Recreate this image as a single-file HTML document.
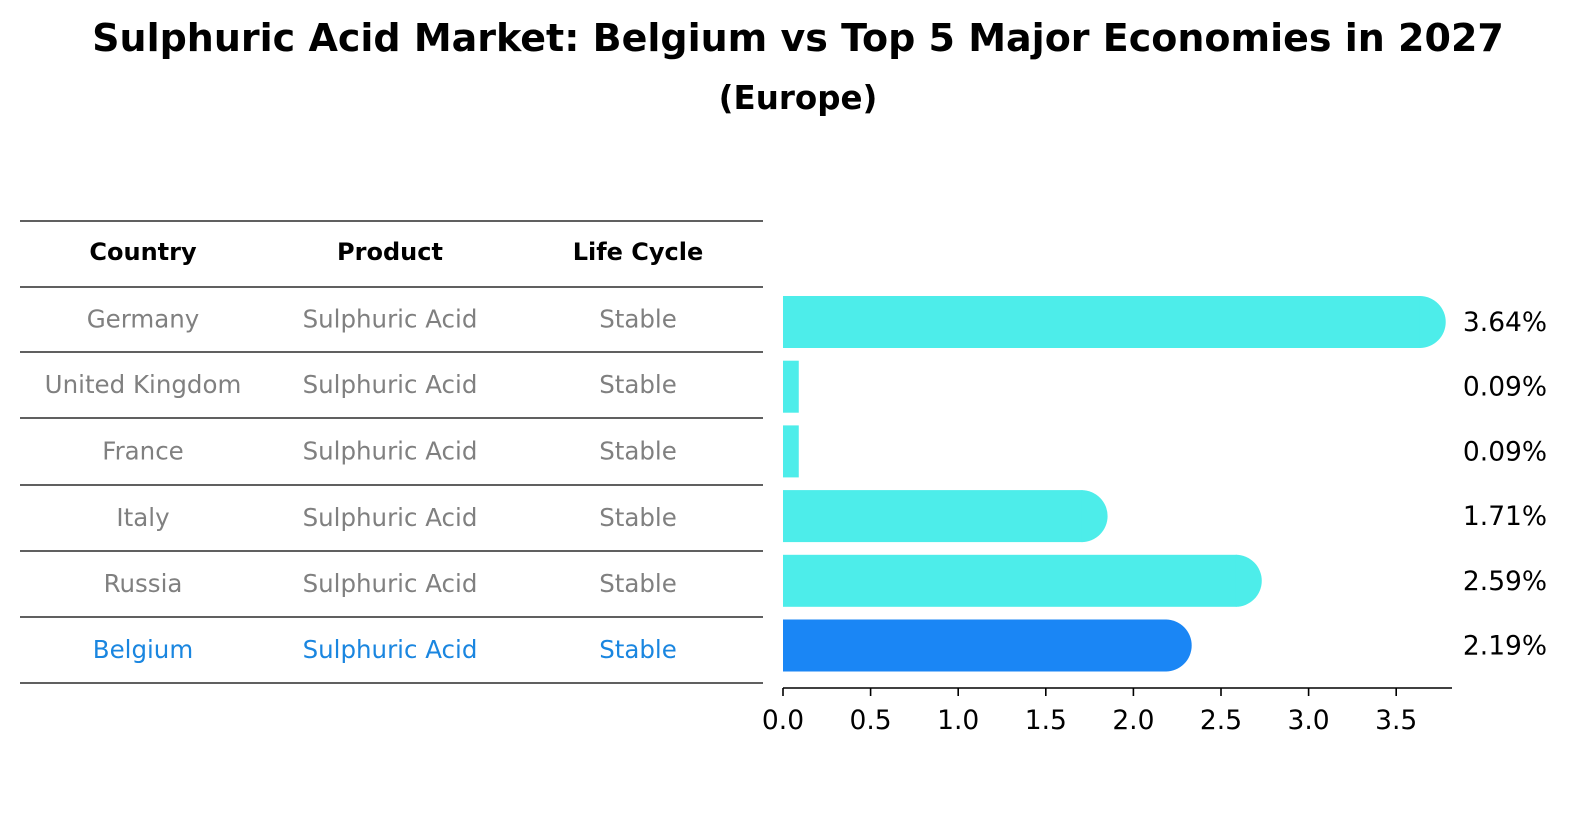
<!DOCTYPE html>
<html><head><meta charset="utf-8"><style>
body{margin:0;background:#fff;font-family:"Liberation Sans","DejaVu Sans",sans-serif;}
#wrap{position:relative;width:1586px;height:823px;overflow:hidden;}
.t{position:absolute;white-space:nowrap;transform:translate(-50%,-50%);}
</style></head><body>
<div id="wrap">
<div class="t" style="left:798px;top:38px;font-size:38px;font-weight:bold;font-family:'DejaVu Sans',sans-serif;">Sulphuric Acid Market: Belgium vs Top 5 Major Economies in 2027</div>
<div class="t" style="left:798px;top:98px;font-size:32.5px;font-weight:bold;font-family:'DejaVu Sans',sans-serif;">(Europe)</div>
<svg id="svg" width="1586" height="823" style="position:absolute;left:0;top:0"></svg>
</div>
<script>
const countries=["Germany","United Kingdom","France","Italy","Russia","Belgium"];
const products=["Sulphuric Acid","Sulphuric Acid","Sulphuric Acid","Sulphuric Acid","Sulphuric Acid","Sulphuric Acid"];
const lifecycle=["Stable","Stable","Stable","Stable","Stable","Stable"];
const values=[3.64,0.09,0.09,1.71,2.59,2.19];
const ticks=[0.0,0.5,1.0,1.5,2.0,2.5,3.0,3.5];
const highlight="Belgium";

const svg=document.getElementById('svg');
const NS="http://www.w3.org/2000/svg";
function mk(tag,attrs){const e=document.createElementNS(NS,tag);for(const k in attrs)e.setAttribute(k,attrs[k]);svg.appendChild(e);return e;}
const x0=783,scale=175.2;
function xs(v){return x0+v*scale;}
function yc(i){return 322+i*64.7;}
const font="'DejaVu Sans',sans-serif";
const lineYs=[221,287,352,418,485,551,617,683];
lineYs.forEach((y,i)=>{
 const l=mk('line',{x1:20,x2:763,y1:y,y2:y,stroke:'#000','stroke-width':1.2});
 
 
});
const colX=[143,390,638];
["Country","Product","Life Cycle"].forEach((h,j)=>{
 const t=mk('text',{x:colX[j],y:260,'text-anchor':'middle','font-size':24,'font-weight':'bold','font-family':font,fill:'#000'});
 t.textContent=h;
 
 
});
countries.forEach((c,i)=>{
 const y=(lineYs[i+1]+lineYs[i+2])/2+8;
 const col=c===highlight?'#1A86E0':'#808080';
 [c,products[i],lifecycle[i]].forEach((v,j)=>{
  const t=mk('text',{x:colX[j],y:y,'text-anchor':'middle','font-size':24.5,'font-family':font,fill:col});
  t.textContent=v;
  
  
 });
});
const bh=52,r=26;
values.forEach((v,i)=>{
 const c=countries[i]===highlight?'#1A86F5':'#4DEDEA';
 const y=yc(i)-bh/2, xe=xs(v);
 const b=mk('rect',{x:x0,y:y,width:xe-x0,height:bh,fill:c});
 
 
 if(v>0.5){
  const cap=mk('path',{d:`M${xe-1},${y} A${r},${r} 0 0 1 ${xe-1},${y+bh} Z`,fill:c});
  
  
 }
 const t=mk('text',{x:1505,y:yc(i)+9,'text-anchor':'middle','font-size':26.5,'font-family':font,fill:'#000'});
 t.textContent=v.toFixed(2)+'%';
 
 
});
const ax=mk('line',{x1:x0,x2:1452,y1:688,y2:688,stroke:'#000','stroke-width':1.6});


ticks.forEach(v=>{
 const tk=mk('line',{x1:xs(v),x2:xs(v),y1:688,y2:696,stroke:'#000','stroke-width':1.6});
 
 
 const t=mk('text',{x:xs(v),y:729,'text-anchor':'middle','font-size':26.5,'font-family':font,fill:'#000'});
 t.textContent=v.toFixed(1);
 
 
});
</script>
</body></html>
